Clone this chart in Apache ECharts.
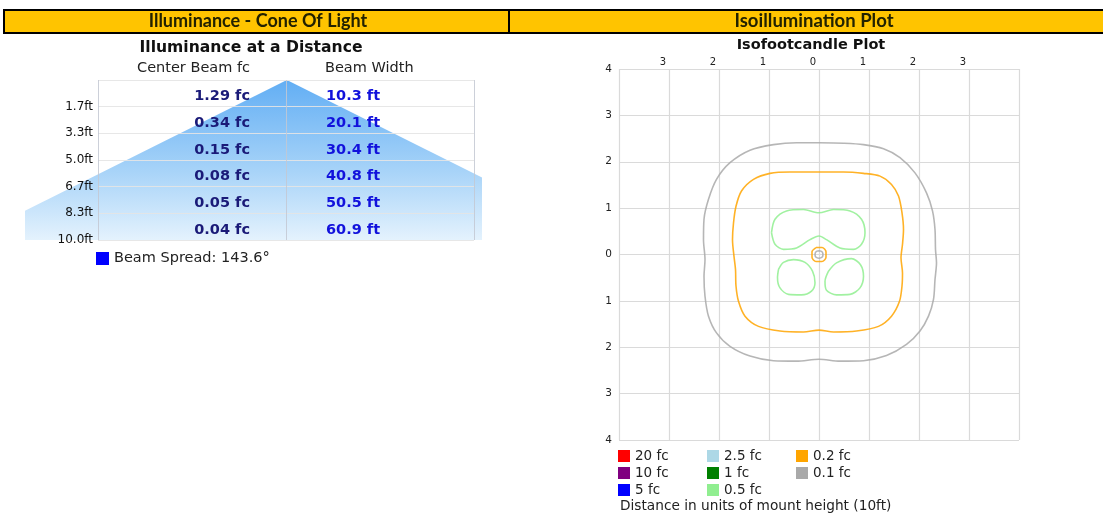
<!DOCTYPE html>
<html>
<head>
<meta charset="utf-8">
<script src="https://cdn.jsdelivr.net/npm/echarts@6/dist/echarts.min.js"></script>
<style>
  html, body { margin: 0; padding: 0; background: #fff; }
  #chart { width: 1103px; height: 515px; }
</style>
</head>
<body>
<div id="chart"></div>
<script>
// ---------- data ----------
const depthLabels = ['1.7ft', '3.3ft', '5.0ft', '6.7ft', '8.3ft', '10.0ft'];
const depthsFt = [10 / 6, 20 / 6, 30 / 6, 40 / 6, 50 / 6, 10];
const centerBeamFc = [1.29, 0.34, 0.15, 0.08, 0.05, 0.04];
const beamWidthFt = [10.3, 20.1, 30.4, 40.8, 50.5, 60.9];
const beamSpreadDeg = 143.6;
const columnHeaders = ['Center Beam fc', 'Beam Width'];

const isoLevels = ['20 fc', '10 fc', '5 fc', '2.5 fc', '1 fc', '0.5 fc', '0.2 fc', '0.1 fc'];
const isoColors = ['#FF0000', '#800080', '#0000FF', '#ADD8E6', '#008000', '#90EE90', '#FFA500', '#A9A9A9'];

// 0.1 fc contour
const iso01 = [[0, 2.41], [0.49, 2.40], [0.89, 2.37], [1.29, 2.28], [1.62, 2.09], [1.92, 1.76], [2.15, 1.33],
  [2.27, 0.94], [2.32, 0.54], [2.33, 0.11], [2.35, -0.18], [2.32, -0.54], [2.29, -0.97], [2.19, -1.33],
  [2.02, -1.65], [1.75, -1.94], [1.35, -2.18], [0.89, -2.29], [0.42, -2.30], [0, -2.26], [-0.45, -2.30],
  [-0.91, -2.29], [-1.38, -2.19], [-1.78, -1.98], [-2.05, -1.69], [-2.21, -1.33], [-2.28, -0.90],
  [-2.30, -0.47], [-2.28, -0.11], [-2.31, 0.32], [-2.30, 0.76], [-2.21, 1.19], [-2.05, 1.62],
  [-1.78, 1.98], [-1.38, 2.25], [-0.91, 2.37], [-0.45, 2.41], [0, 2.41]];
// 0.2 fc contour
const iso02 = [[0, 1.78], [0.49, 1.78], [0.89, 1.75], [1.22, 1.69], [1.45, 1.51], [1.59, 1.26], [1.66, 0.90],
  [1.69, 0.54], [1.67, 0.22], [1.64, -0.07], [1.67, -0.40], [1.66, -0.68], [1.61, -1.01], [1.45, -1.33],
  [1.19, -1.55], [0.75, -1.65], [0.29, -1.67], [0, -1.63], [-0.31, -1.67], [-0.78, -1.65], [-1.21, -1.55],
  [-1.48, -1.33], [-1.61, -1.01], [-1.66, -0.68], [-1.67, -0.32], [-1.70, -0.04], [-1.73, 0.32],
  [-1.71, 0.68], [-1.66, 1.04], [-1.55, 1.37], [-1.31, 1.62], [-0.98, 1.75], [-0.58, 1.78], [0, 1.78]];
// 0.5 fc contour (three lobes)
const iso05Top = [[-0.95, 0.47], [-0.88, 0.76], [-0.65, 0.94], [-0.31, 0.97], [0, 0.90], [0.29, 0.97],
  [0.62, 0.94], [0.85, 0.76], [0.92, 0.47], [0.85, 0.22], [0.69, 0.11], [0.42, 0.14], [0.15, 0.32],
  [0, 0.40], [-0.18, 0.32], [-0.45, 0.14], [-0.71, 0.11], [-0.88, 0.22], [-0.95, 0.47]];
const iso05Left = [[-0.81, -0.32], [-0.71, -0.17], [-0.51, -0.11], [-0.28, -0.17], [-0.13, -0.36],
  [-0.08, -0.61], [-0.15, -0.79], [-0.35, -0.87], [-0.61, -0.86], [-0.78, -0.72], [-0.83, -0.50], [-0.81, -0.32]];
const iso05Right = [[0.19, -0.36], [0.35, -0.18], [0.65, -0.09], [0.83, -0.22], [0.89, -0.47], [0.82, -0.72],
  [0.62, -0.86], [0.35, -0.87], [0.15, -0.77], [0.12, -0.58], [0.19, -0.36]];
// small rings around the fixture
const iso02Center = [[-0.06, 0.15], [0.06, 0.15], [0.14, 0.06], [0.14, -0.06], [0.06, -0.15], [-0.06, -0.15],
  [-0.14, -0.06], [-0.14, 0.06], [-0.06, 0.15]];
const iso01Center = [[0, 0.08], [0.06, 0.06], [0.08, 0], [0.06, -0.06], [0, -0.08], [-0.06, -0.06],
  [-0.08, 0], [-0.06, 0.06], [0, 0.08]];

// ---------- chart ----------
const FONT = "'DejaVu Sans', Verdana, sans-serif";
const chart = echarts.init(document.getElementById('chart'), null, { renderer: 'canvas' });

const halfW10 = beamWidthFt[beamWidthFt.length - 1] / 2;
const coneData = [[-halfW10, depthsFt[depthsFt.length - 1]], [0, 0], [halfW10, depthsFt[depthsFt.length - 1]]];
const beamName = 'Beam Spread: ' + beamSpreadDeg.toFixed(1) + '°';

function isoColor(name) { return isoColors[isoLevels.indexOf(name)]; }
function contour(name, data) {
  const c = isoColor(name);
  return {
    name: name, type: 'line', xAxisIndex: 2, yAxisIndex: 2, data: data,
    symbol: 'none', smooth: 0.3, silent: true,
    itemStyle: { color: c }, lineStyle: { color: c, width: 1.6, opacity: 0.85 }, z: 3
  };
}
function legendItems(names) {
  return names.map(n => ({ name: n, itemStyle: { color: isoColor(n) } }));
}
const emptyLevelSeries = ['20 fc', '10 fc', '5 fc', '2.5 fc', '1 fc'].map(n => ({
  name: n, type: 'line', xAxisIndex: 2, yAxisIndex: 2, data: [], symbol: 'none',
  itemStyle: { color: isoColor(n) }, lineStyle: { color: isoColor(n) }
}));

const legendBase = {
  orient: 'vertical', icon: 'rect', itemWidth: 12, itemHeight: 12, itemGap: 3,
  selectedMode: false, padding: 0,
  textStyle: { fontFamily: FONT, fontSize: 13.5, color: '#222', padding: [0, 0, 0, 0] }
};

function tableLabelSeries(name, values, cfg) {
  return {
    name: name, type: 'custom', xAxisIndex: 1, yAxisIndex: 1, silent: true, z: 6,
    data: depthsFt.map((d, i) => [1, d, values[i]]),
    renderItem: function (params, api) {
      const p = api.coord([api.value(0), api.value(1)]);
      return {
        type: 'text', x: p[0] + cfg.dx, y: p[1] - 10,
        style: { text: cfg.fmt(api.value(2)), fill: cfg.color, align: cfg.align, verticalAlign: 'middle',
          font: "bold 14.5px 'DejaVu Sans', Verdana, sans-serif" }
      };
    }
  };
}

const option = {
  animation: false,
  backgroundColor: '#fff',
  grid: [
    { left: 25, top: 80, width: 457, height: 160 },
    { left: 98, top: 80, width: 376, height: 160 },
    { left: 619, top: 69, width: 400, height: 371 }
  ],
  xAxis: [
    { gridIndex: 0, type: 'value', min: -24.9, max: 18.55, show: false },
    { gridIndex: 1, type: 'value', min: 0, max: 2, interval: 1, z: 5,
      axisLine: { show: false }, axisTick: { show: false }, axisLabel: { show: false },
      splitLine: { show: true, lineStyle: { color: 'rgba(195,200,210,0.85)', width: 1 } } },
    { gridIndex: 2, type: 'value', min: -4, max: 4, interval: 1, position: 'top',
      axisLine: { show: false }, axisTick: { show: false },
      axisLabel: { margin: 2, fontFamily: FONT, fontSize: 10, color: '#222', padding: [0, 12, 0, 0],
        formatter: v => (Math.abs(v) === 4 ? '' : String(Math.abs(v))) },
      splitLine: { show: true, lineStyle: { color: '#dadada', width: 1.2 } } }
  ],
  yAxis: [
    { gridIndex: 0, type: 'value', min: 0, max: 10, inverse: true, show: false },
    { gridIndex: 1, type: 'value', min: 0, max: 10, interval: 10 / 6, inverse: true, z: 5,
      axisLine: { show: false }, axisTick: { show: false },
      axisLabel: { margin: 5, fontFamily: FONT, fontSize: 12, color: '#111', padding: [3, 0, 0, 0],
        formatter: v => { const i = depthsFt.findIndex(d => Math.abs(d - v) < 0.05); return i >= 0 ? depthLabels[i] : ''; } },
      splitLine: { show: true, lineStyle: { color: 'rgba(228,228,228,0.9)', width: 1 } } },
    { gridIndex: 2, type: 'value', min: -4, max: 4, interval: 1,
      axisLine: { show: false }, axisTick: { show: false },
      axisLabel: { margin: 7, fontFamily: FONT, fontSize: 10.5, color: '#222',
        formatter: v => String(Math.abs(v)) },
      splitLine: { show: true, lineStyle: { color: '#dadada', width: 1.2 } } }
  ],
  legend: [
    Object.assign({}, legendBase, { left: 96, top: 251, itemWidth: 13, itemHeight: 13,
      textStyle: { fontFamily: FONT, fontSize: 14.5, color: '#222' },
      data: [{ name: beamName, itemStyle: { color: '#0000FF' } }] }),
    Object.assign({}, legendBase, { left: 618, top: 449, data: legendItems(['20 fc', '10 fc', '5 fc']) }),
    Object.assign({}, legendBase, { left: 707, top: 449, data: legendItems(['2.5 fc', '1 fc', '0.5 fc']) }),
    Object.assign({}, legendBase, { left: 796, top: 449, data: legendItems(['0.2 fc', '0.1 fc']) })
  ],
  series: [
    { name: beamName, type: 'line', xAxisIndex: 0, yAxisIndex: 0, data: coneData, symbol: 'none',
      silent: true, z: 1, clip: true,
      itemStyle: { color: '#0000FF' },
      lineStyle: { width: 0 },
      areaStyle: { origin: 'end', opacity: 1,
        color: new echarts.graphic.LinearGradient(0, 0, 0, 1, [
          { offset: 0, color: '#62AEF4' }, { offset: 0.55, color: '#A5D2F8' }, { offset: 1, color: '#E4F2FD' }]) } },
    tableLabelSeries('fc', centerBeamFc, { dx: -36, align: 'right', color: '#1a1a78', fmt: v => v.toFixed(2) + ' fc' }),
    tableLabelSeries('width', beamWidthFt, { dx: 40, align: 'left', color: '#1212dc', fmt: v => v.toFixed(1) + ' ft' }),
    contour('0.1 fc', iso01),
    contour('0.2 fc', iso02),
    contour('0.5 fc', iso05Top),
    contour('0.5 fc', iso05Left),
    contour('0.5 fc', iso05Right),
    contour('0.2 fc', iso02Center),
    contour('0.1 fc', iso01Center)
  ].concat(emptyLevelSeries),
  graphic: [
    { type: 'rect', shape: { x: 4, y: 10, width: 505, height: 23 },
      style: { fill: '#FFC400', stroke: '#000', lineWidth: 2 }, z: 10 },
    { type: 'rect', shape: { x: 509, y: 10, width: 600, height: 23 },
      style: { fill: '#FFC400', stroke: '#000', lineWidth: 2 }, z: 10 },
    { type: 'text', x: 258, y: 21, z: 11,
      style: { text: 'Illuminance - Cone Of Light', font: "bold 18px Lato, 'Open Sans', sans-serif",
        fill: '#222200', textAlign: 'center', textVerticalAlign: 'middle' } },
    { type: 'text', x: 814, y: 21, z: 11,
      style: { text: 'Isoillumination Plot', font: "bold 18.5px Lato, 'Open Sans', sans-serif",
        fill: '#222200', textAlign: 'center', textVerticalAlign: 'middle' } },
    { type: 'text', x: 251, y: 48, z: 11,
      style: { text: 'Illuminance at a Distance', font: "bold 15.6px 'DejaVu Sans', sans-serif",
        fill: '#111', textAlign: 'center', textVerticalAlign: 'middle' } },
    { type: 'text', x: 811, y: 45, z: 11,
      style: { text: 'Isofootcandle Plot', font: "bold 14.5px 'DejaVu Sans', sans-serif",
        fill: '#111', textAlign: 'center', textVerticalAlign: 'middle' } },
    { type: 'text', x: 250, y: 68, z: 11,
      style: { text: columnHeaders[0], font: "14.5px 'DejaVu Sans', sans-serif",
        fill: '#222', textAlign: 'right', textVerticalAlign: 'middle' } },
    { type: 'text', x: 325, y: 68, z: 11,
      style: { text: columnHeaders[1], font: "14.5px 'DejaVu Sans', sans-serif",
        fill: '#222', textAlign: 'left', textVerticalAlign: 'middle' } },
    { type: 'text', x: 620, y: 506, z: 11,
      style: { text: 'Distance in units of mount height (10ft)', font: "13.7px 'DejaVu Sans', sans-serif",
        fill: '#222', textAlign: 'left', textVerticalAlign: 'middle' } }
  ]
};
chart.setOption(option);
</script>
</body>
</html>
